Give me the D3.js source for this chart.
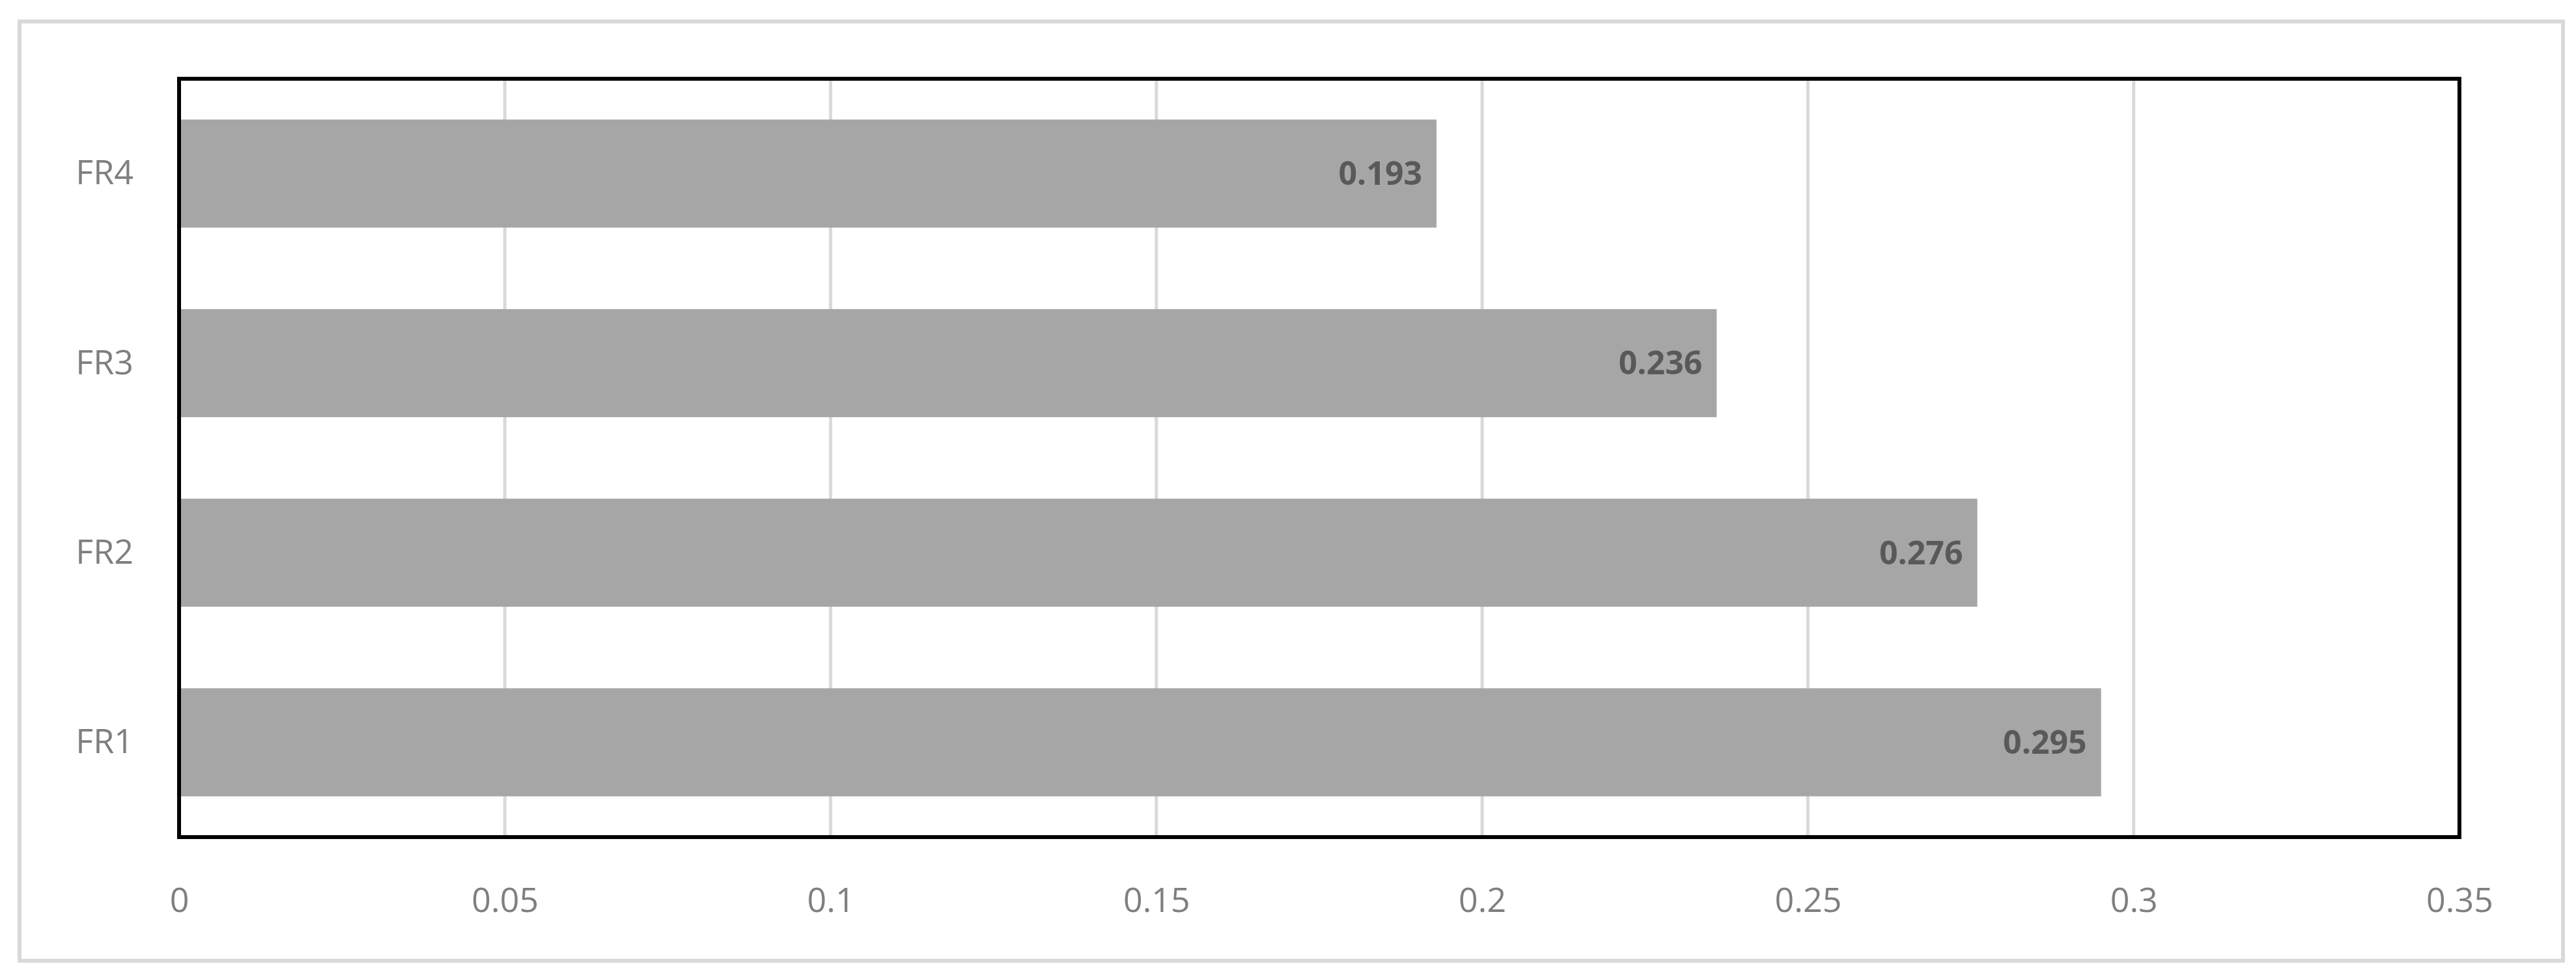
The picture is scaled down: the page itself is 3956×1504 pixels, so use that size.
<!DOCTYPE html><html><head><meta charset="utf-8"><script src="https://cdn.jsdelivr.net/npm/d3@7"></script>
<style>body{margin:0;background:#fff}</style></head><body><svg id="c" width="3956" height="1504"></svg>
<script>
const categories=["FR1","FR2","FR3","FR4"];
const values=[0.295,0.276,0.236,0.193];
const ticks=[0,0.05,0.1,0.15,0.2,0.25,0.3,0.35];
const tickLabels=["0","0.05","0.1","0.15","0.2","0.25","0.3","0.35"];
const svg=d3.select("#c");
const m={l:275,t:121,r:3777,b:1286};
const font="'Liberation Sans Narrow','Open Sans',sans-serif";
svg.append("rect").attr("x",30).attr("y",33).attr("width",3906).attr("height",1443).attr("fill","#fff").attr("stroke","#d9d9d9").attr("stroke-width",6);
const x=d3.scaleLinear().domain([0,0.35]).range([m.l,m.r]);
const y=d3.scaleBand().domain(categories.slice().reverse()).range([m.t,m.b]).paddingInner(0.43).paddingOuter(0.215);
svg.append("g").selectAll("line").data(ticks.slice(1)).join("line").attr("x1",d=>x(d)).attr("x2",d=>x(d)).attr("y1",m.t).attr("y2",m.b).attr("stroke","#d9d9d9").attr("stroke-width",5);
svg.append("line").attr("x1",m.l).attr("x2",m.l).attr("y1",m.t).attr("y2",m.b).attr("stroke","#d9d9d9").attr("stroke-width",5);
svg.append("g").selectAll("rect").data(categories).join("rect").attr("x",x(0)+3).attr("y",d=>y(d)).attr("height",y.bandwidth()).attr("width",(d,i)=>x(values[i])-x(0)-3).attr("fill","#a6a6a6");
svg.append("g").selectAll("text").data(categories).join("text").attr("x",(d,i)=>x(values[i])-22).attr("y",d=>y(d)+y.bandwidth()/2).attr("dy","0.35em").attr("text-anchor","end").attr("font-family",font).attr("font-weight","bold").attr("font-size",50).attr("fill","#595959").text((d,i)=>values[i].toFixed(3));
svg.append("rect").attr("x",m.l).attr("y",m.t).attr("width",m.r-m.l).attr("height",m.b-m.t).attr("fill","none").attr("stroke","#000").attr("stroke-width",6);
const xa=svg.append("g").attr("transform",`translate(0,${m.b})`).call(d3.axisBottom(x).tickValues(ticks).tickFormat((d,i)=>tickLabels[i]).tickSize(0).tickPadding(78));
xa.select(".domain").remove();
xa.selectAll("text").attr("font-family",font).attr("font-size",52).attr("fill","#7f7f7f");
const ya=svg.append("g").attr("transform",`translate(${m.l},0)`).call(d3.axisLeft(y).tickSize(0).tickPadding(70));
ya.select(".domain").remove();
ya.selectAll("text").attr("font-family",font).attr("font-size",52).attr("fill","#7f7f7f");
</script></body></html>
